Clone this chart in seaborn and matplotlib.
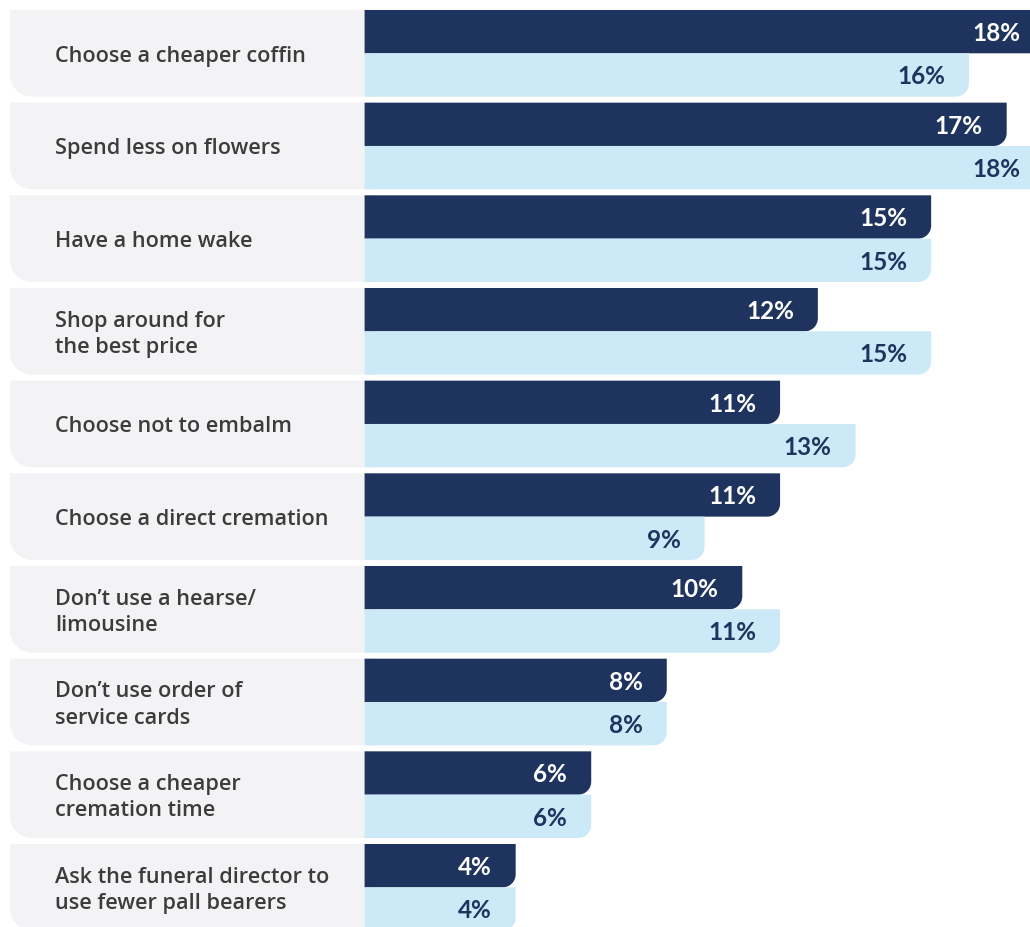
import matplotlib
matplotlib.use("Agg")
import matplotlib.pyplot as plt
from matplotlib.path import Path
from matplotlib.patches import PathPatch
import numpy as np
import pandas as pd
import seaborn as sns

measures = ["Choose a cheaper coffin", "Spend less on flowers", "Have a home wake",
            "Shop around for\nthe best price", "Choose not to embalm", "Choose a direct cremation",
            "Don\u2019t use a hearse/\nlimousine", "Don\u2019t use order of\nservice cards",
            "Choose a cheaper\ncremation time", "Ask the funeral director to\nuse fewer pall bearers"]
series_a = [18, 17, 15, 12, 11, 11, 10, 8, 6, 4]
series_b = [16, 18, 15, 15, 13, 9, 11, 8, 6, 4]
series_names = ["A", "B"]

NAVY = "#1e345f"
LIGHT = "#cbe9f6"
PANEL = "#f3f3f5"
TEXT = "#3c3c3c"

# pixel scale of the layout
SX = 37.77   # px per percent
SY = 92.67   # px per category

df = pd.DataFrame({
    "measure": measures * 2,
    "value": series_a + series_b,
    "series": [series_names[0]] * len(measures) + [series_names[1]] * len(measures),
})

sns.set_theme(style="white")
plt.rcParams["font.family"] = ["Lato", "DejaVu Sans"]

fig = plt.figure(figsize=(10.30, 9.27), dpi=100)
ax = fig.add_axes([0, 0, 1, 1])

sns.barplot(data=df, y="measure", x="value", hue="series", orient="h",
            palette=[NAVY, LIGHT], saturation=1, width=0.935, legend=False, ax=ax)

ax.set_xlim(-364.6 / SX, (1030 - 364.6) / SX)
ax.set_ylim((927 - 53.3) / SY, -53.3 / SY)
ax.set_axis_off()


def rounded(x0, x1, ytop, ybot, r_br=0, r_bl=0):
    # y axis is inverted, so ybot (larger value) is the visual bottom
    k = 0.5523
    verts = [(x0, ytop), (x1, ytop)]
    codes = [Path.MOVETO, Path.LINETO]
    rx, ry = r_br / SX, r_br / SY
    if r_br:
        verts += [(x1, ybot - ry), (x1, ybot - ry + k * ry), (x1 - rx + k * rx, ybot), (x1 - rx, ybot)]
        codes += [Path.LINETO, Path.CURVE4, Path.CURVE4, Path.CURVE4]
    else:
        verts += [(x1, ybot)]
        codes += [Path.LINETO]
    rx, ry = r_bl / SX, r_bl / SY
    if r_bl:
        verts += [(x0 + rx, ybot), (x0 + rx - k * rx, ybot), (x0, ybot - ry + k * ry), (x0, ybot - ry)]
        codes += [Path.LINETO, Path.CURVE4, Path.CURVE4, Path.CURVE4]
    else:
        verts += [(x0, ybot)]
        codes += [Path.LINETO]
    verts += [(x0, ytop)]
    codes += [Path.CLOSEPOLY]
    return Path(verts, codes)


# grey label panels
for i, label in enumerate(measures):
    ax.add_patch(PathPatch(rounded((10 - 364.6) / SX, 0.3, i - 0.4675, i + 0.4675, r_bl=22),
                           facecolor=PANEL, edgecolor="none", zorder=0))
    ax.text((55 - 364.6) / SX, i + 3 / SY, label, ha="left", va="center", fontsize=15.6,
            fontweight="semibold", color=TEXT, linespacing=1.33, zorder=3,
            family=["Open Sans", "DejaVu Sans"])

# replace bars with right-rounded versions and add value labels
for container, vals, fg in zip(ax.containers, [series_a, series_b], ["white", NAVY]):
    for bar, v in zip(container, vals):
        x0, y0 = bar.get_x(), bar.get_y()
        w, h = bar.get_width(), bar.get_height()
        color = bar.get_facecolor()
        bar.remove()
        ax.add_patch(PathPatch(rounded(x0, x0 + w, y0, y0 + h, r_br=13),
                               facecolor=color, edgecolor="none", zorder=2))
        ax.text(x0 + w - 24 / SX, y0 + h / 2 + 2 / SY, f"{v}%", ha="right", va="center",
                fontsize=17.5, fontweight="bold", color=fg, zorder=4)

fig.savefig("out.png", dpi=100, facecolor="white")
